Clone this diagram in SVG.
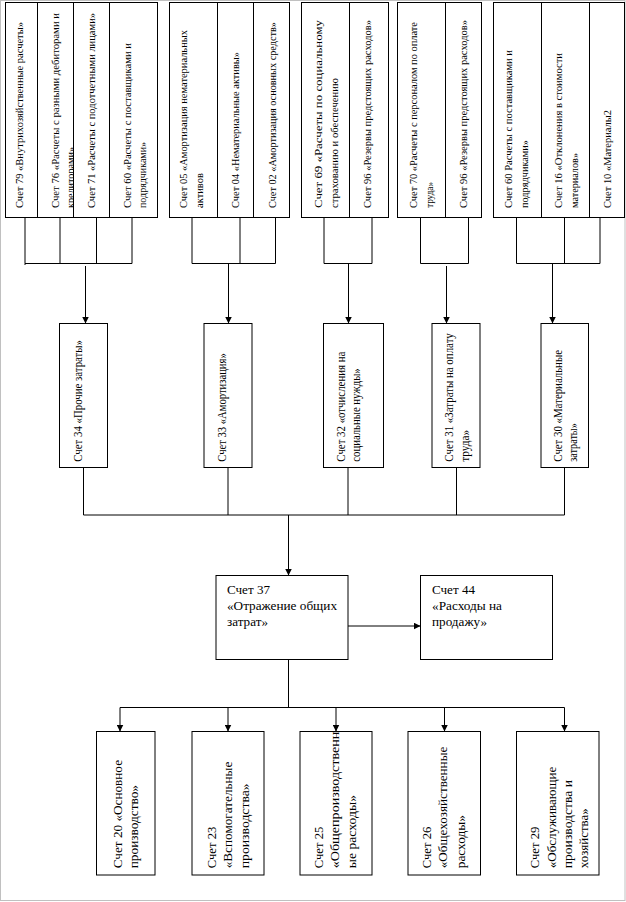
<svg xmlns="http://www.w3.org/2000/svg" width="626" height="902" viewBox="0 0 626 902">
<style>
.b{fill:#fff;stroke:#000;stroke-width:1}
.c{fill:none;stroke:#000;stroke-width:1}
.a{fill:none;stroke:#000;stroke-width:1;marker-end:url(#ah)}
.t{font-family:"Liberation Serif","Times New Roman",serif;font-size:11px;fill:#000}
.m{font-family:"Liberation Serif","Times New Roman",serif;font-size:12px;fill:#000}
.l{font-family:"Liberation Serif","Times New Roman",serif;font-size:12.5px;fill:#000}
.h{font-family:"Liberation Serif","Times New Roman",serif;font-size:12.5px;fill:#000}
</style>
<defs>
<marker id="ah" viewBox="0 0 7 7" refX="7" refY="3.5" markerWidth="7" markerHeight="7" markerUnits="userSpaceOnUse" orient="auto"><path d="M0,0 L7,3.5 L0,7 z" fill="#000"/></marker>
</defs>
<rect x="0.5" y="0.5" width="624.5" height="900" fill="#fff" stroke="#c0c0c0" stroke-width="1"/>

<!-- Group 1 -->
<g id="n79"><rect class="b" x="5.5" y="2.5" width="32" height="215"/>
<text class="t" transform="translate(22.7,208) rotate(-90)" textLength="186" lengthAdjust="spacingAndGlyphs">Счет 79 «Внутрихозяйственные расчеты»</text></g>
<g id="n76"><rect class="b" x="37.5" y="2.5" width="36" height="215"/>
<text class="t" transform="translate(59.3,208) rotate(-90)" textLength="195" lengthAdjust="spacingAndGlyphs">Счет 76 «Расчеты с разными дебиторами и</text>
<text class="t" transform="translate(74.3,208) rotate(-90)" textLength="61" lengthAdjust="spacingAndGlyphs">кредиторами»</text></g>
<g id="n71"><rect class="b" x="73.5" y="2.5" width="36" height="215"/>
<text class="t" transform="translate(95,208) rotate(-90)" textLength="195" lengthAdjust="spacingAndGlyphs">Счет 71 «Расчеты с подотчетными лицами»</text></g>
<g id="n60a"><rect class="b" x="109.5" y="2.5" width="48" height="215"/>
<text class="t" transform="translate(130.7,208) rotate(-90)" textLength="165" lengthAdjust="spacingAndGlyphs">Счет 60 «Расчеты с поставщиками и</text>
<text class="t" transform="translate(146,208) rotate(-90)" textLength="66" lengthAdjust="spacingAndGlyphs">подрядчиками»</text></g>

<!-- Group 2 -->
<g id="n05"><rect class="b" x="169.5" y="2.5" width="48" height="215"/>
<text class="t" transform="translate(187.3,208) rotate(-90)" textLength="178" lengthAdjust="spacingAndGlyphs">Счет 05 «Амортизация нематериальных</text>
<text class="t" transform="translate(203.3,208) rotate(-90)" textLength="35" lengthAdjust="spacingAndGlyphs">активов</text></g>
<g id="n04"><rect class="b" x="217.5" y="2.5" width="36" height="215"/>
<text class="t" transform="translate(239,208) rotate(-90)" textLength="156" lengthAdjust="spacingAndGlyphs">Счет 04 «Нематериальные активы»</text></g>
<g id="n02"><rect class="b" x="253.5" y="2.5" width="36" height="215"/>
<text class="t" transform="translate(275.7,208) rotate(-90)" textLength="186" lengthAdjust="spacingAndGlyphs">Счет 02 «Амортизация основных средств»</text></g>

<!-- Group 3 -->
<g id="n69"><rect class="b" x="301.5" y="2.5" width="48" height="215"/>
<text class="t" transform="translate(322.3,208) rotate(-90)" textLength="188" lengthAdjust="spacingAndGlyphs">Счет 69 «Расчеты по социальному</text>
<text class="t" transform="translate(338.3,208) rotate(-90)" textLength="130" lengthAdjust="spacingAndGlyphs">страхованию и обеспечению</text></g>
<g id="n96a"><rect class="b" x="349.5" y="2.5" width="39" height="215"/>
<text class="t" transform="translate(370.7,208) rotate(-90)" textLength="188" lengthAdjust="spacingAndGlyphs">Счет 96 «Резервы предстоящих расходов»</text></g>

<!-- Group 4 -->
<g id="n70"><rect class="b" x="397.5" y="2.5" width="48" height="215"/>
<text class="t" transform="translate(417.3,208) rotate(-90)" textLength="186" lengthAdjust="spacingAndGlyphs">Счет 70 «Расчеты с персоналом по оплате</text>
<text class="t" transform="translate(433.3,208) rotate(-90)" textLength="26" lengthAdjust="spacingAndGlyphs">труда»</text></g>
<g id="n96b"><rect class="b" x="445.5" y="2.5" width="36" height="215"/>
<text class="t" transform="translate(467.3,208) rotate(-90)" textLength="188" lengthAdjust="spacingAndGlyphs">Счет 96 «Резервы предстоящих расходов»</text></g>

<!-- Group 5 -->
<g id="n60b"><rect class="b" x="493.5" y="2.5" width="48" height="215"/>
<text class="t" transform="translate(512.3,208) rotate(-90)" textLength="158" lengthAdjust="spacingAndGlyphs">Счет 60 Расчеты с поставщиками и</text>
<text class="t" transform="translate(528.3,208) rotate(-90)" textLength="68" lengthAdjust="spacingAndGlyphs">подрядчиками»</text></g>
<g id="n16"><rect class="b" x="541.5" y="2.5" width="48" height="215"/>
<text class="t" transform="translate(562.3,208) rotate(-90)" textLength="155" lengthAdjust="spacingAndGlyphs">Счет 16 «Отклонения в стоимости</text>
<text class="t" transform="translate(578,208) rotate(-90)" textLength="55" lengthAdjust="spacingAndGlyphs">материалов»</text></g>
<g id="n10"><rect class="b" x="589.5" y="2.5" width="35" height="215"/>
<text class="t" transform="translate(610.7,208) rotate(-90)" textLength="98" lengthAdjust="spacingAndGlyphs">Счет 10 «Материалы2</text></g>

<!-- Middle row -->
<g id="n34"><rect class="b" x="59.5" y="323.5" width="48" height="144"/>
<text class="m" transform="translate(81.7,461.7) rotate(-90)" textLength="121.7" lengthAdjust="spacingAndGlyphs">Счет 34 «Прочие затраты»</text></g>
<g id="n33"><rect class="b" x="204" y="323.5" width="48" height="144"/>
<text class="m" transform="translate(226,461.7) rotate(-90)" textLength="108.4" lengthAdjust="spacingAndGlyphs">Счет 33 «Амортизация»</text></g>
<g id="n32"><rect class="b" x="323.5" y="323.5" width="60" height="144"/>
<text class="m" transform="translate(345,461.7) rotate(-90)" textLength="110" lengthAdjust="spacingAndGlyphs">Счет 32 «отчисления на</text>
<text class="m" transform="translate(360,461.7) rotate(-90)" textLength="93.4" lengthAdjust="spacingAndGlyphs">социальные нужды»</text></g>
<g id="n31"><rect class="b" x="432" y="323.5" width="48" height="144"/>
<text class="m" transform="translate(453.3,461.7) rotate(-90)" textLength="128.4" lengthAdjust="spacingAndGlyphs">Счет 31 «Затраты на оплату</text>
<text class="m" transform="translate(469.3,461.7) rotate(-90)" textLength="31.7" lengthAdjust="spacingAndGlyphs">труда»</text></g>
<g id="n30"><rect class="b" x="541" y="323.5" width="47.5" height="144"/>
<text class="m" transform="translate(562.3,461.7) rotate(-90)" textLength="111.7" lengthAdjust="spacingAndGlyphs">Счет 30 «Материальные</text>
<text class="m" transform="translate(576.7,461.7) rotate(-90)" textLength="38.4" lengthAdjust="spacingAndGlyphs">затраты»</text></g>

<!-- Central -->
<g id="n37"><rect class="b" x="216" y="575.5" width="132" height="84"/>
<text class="h" x="227" y="594" textLength="43" lengthAdjust="spacingAndGlyphs">Счет 37</text>
<text class="h" x="227" y="610" textLength="110" lengthAdjust="spacingAndGlyphs">«Отражение общих</text>
<text class="h" x="227" y="626" textLength="41" lengthAdjust="spacingAndGlyphs">затрат»</text></g>
<g id="n44"><rect class="b" x="420.5" y="575.5" width="132" height="84"/>
<text class="h" x="432" y="594" textLength="43" lengthAdjust="spacingAndGlyphs">Счет 44</text>
<text class="h" x="432" y="610" textLength="70" lengthAdjust="spacingAndGlyphs">«Расходы на</text>
<text class="h" x="432" y="626" textLength="55" lengthAdjust="spacingAndGlyphs">продажу»</text></g>

<!-- Bottom row -->
<g id="n20"><rect class="b" x="96.5" y="731.5" width="58.5" height="143.5"/>
<text class="l" transform="translate(121.7,868.3) rotate(-90)" textLength="108.3" lengthAdjust="spacingAndGlyphs">Счет 20 «Основное</text>
<text class="l" transform="translate(138.3,868.3) rotate(-90)" textLength="83.3" lengthAdjust="spacingAndGlyphs">производство»</text></g>
<g id="n23"><rect class="b" x="192" y="731.5" width="72" height="143.5"/>
<text class="l" transform="translate(215.7,868.3) rotate(-90)" textLength="41.6" lengthAdjust="spacingAndGlyphs">Счет 23</text>
<text class="l" transform="translate(232.3,868.3) rotate(-90)" textLength="106.6" lengthAdjust="spacingAndGlyphs">«Вспомогательные</text>
<text class="l" transform="translate(249,868.3) rotate(-90)" textLength="85" lengthAdjust="spacingAndGlyphs">производства»</text></g>
<g id="n25"><rect class="b" x="300" y="731.5" width="72" height="143.5"/>
<text class="l" transform="translate(323.3,868.3) rotate(-90)" textLength="41.6" lengthAdjust="spacingAndGlyphs">Счет 25</text>
<text class="l" transform="translate(339.3,868.3) rotate(-90)" textLength="136.6" lengthAdjust="spacingAndGlyphs">«Общепроизводственн</text>
<text class="l" transform="translate(356,868.3) rotate(-90)" textLength="73.3" lengthAdjust="spacingAndGlyphs">ые расходы»</text></g>
<g id="n26"><rect class="b" x="408" y="731.5" width="72.5" height="143.5"/>
<text class="l" transform="translate(430.7,868.3) rotate(-90)" textLength="41.6" lengthAdjust="spacingAndGlyphs">Счет 26</text>
<text class="l" transform="translate(447.3,868.3) rotate(-90)" textLength="121.6" lengthAdjust="spacingAndGlyphs">«Общехозяйственные</text>
<text class="l" transform="translate(465,868.3) rotate(-90)" textLength="53.3" lengthAdjust="spacingAndGlyphs">расходы»</text></g>
<g id="n29"><rect class="b" x="516.5" y="731.5" width="82.5" height="143.5"/>
<text class="l" transform="translate(539,868.3) rotate(-90)" textLength="41.6" lengthAdjust="spacingAndGlyphs">Счет 29</text>
<text class="l" transform="translate(555.7,868.3) rotate(-90)" textLength="101.6" lengthAdjust="spacingAndGlyphs">«Обслуживающие</text>
<text class="l" transform="translate(572.3,868.3) rotate(-90)" textLength="88.3" lengthAdjust="spacingAndGlyphs">производства и</text>
<text class="l" transform="translate(588.3,868.3) rotate(-90)" textLength="60" lengthAdjust="spacingAndGlyphs">хозяйства»</text></g>

<!-- Connectors -->
<g id="connectors">
<path class="c" d="M25,217.5V263.5 M60,217.5V263.5 M96.5,217.5V263.5 M132,217.5V263.5 M25,263.5H132 M25,263.5V265"/>
<path class="c" d="M192,217.5V263.5 M240,217.5V263.5 M275.5,217.5V263.5 M192,263.5H275.5"/>
<path class="c" d="M324,217.5V263.5 M372,217.5V263.5 M324,263.5H372"/>
<path class="c" d="M420.5,217.5V263.5 M468.5,217.5V263.5 M420.5,263.5H468.5"/>
<path class="c" d="M516.5,217.5V263.5 M564.5,217.5V263.5 M600,217.5V263.5 M516.5,263.5H600"/>
<path class="a" d="M85.5,266V323.5"/>
<path class="a" d="M228.5,263.5V323.5"/>
<path class="a" d="M348.5,263.5V323.5"/>
<path class="a" d="M446.5,266V323.5"/>
<path class="a" d="M552.5,263.5V323.5"/>
<path class="c" d="M83.5,467.5V515 M228,467.5V515 M348,467.5V515 M456.5,467.5V515 M564.5,467.5V515 M83.5,515H564.5"/>
<path class="a" d="M288.5,515V575.5"/>
<path class="a" d="M348,626H420.5"/>
<path class="c" d="M288.5,659.5V707.5 M120,707.5H564.5"/>
<path class="a" d="M120,707.5V731.5"/>
<path class="a" d="M228,707.5V731.5"/>
<path class="a" d="M336,707.5V731.5"/>
<path class="a" d="M444.5,707.5V731.5"/>
<path class="a" d="M564.5,707.5V731.5"/>
</g>
</svg>
